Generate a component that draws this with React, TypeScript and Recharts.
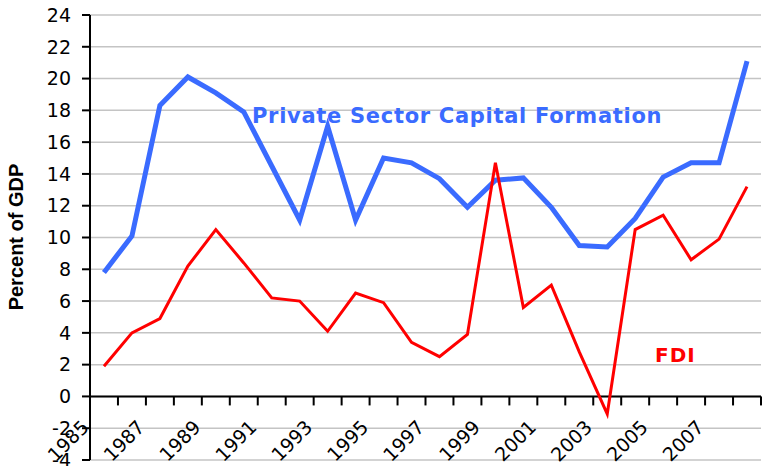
import React from "react";
import {
  LineChart,
  Line,
  XAxis,
  YAxis,
  CartesianGrid,
  ReferenceLine,
} from "recharts";

const years = [
  "1985", "1986", "1987", "1988", "1989", "1990", "1991", "1992",
  "1993", "1994", "1995", "1996", "1997", "1998", "1999", "2000",
  "2001", "2002", "2003", "2004", "2005", "2006", "2007", "2008",
];
const privateCapital = [
  7.8, 10.1, 18.3, 20.1, 19.1, 17.9, 14.5, 11.1, 17.0, 11.1, 15.0, 14.7,
  13.7, 11.9, 13.6, 13.75, 11.9, 9.5, 9.4, 11.2, 13.8, 14.7, 14.7, 21.1,
];
const fdi = [
  1.9, 4.0, 4.9, 8.2, 10.5, 8.4, 6.2, 6.0, 4.1, 6.5, 5.9, 3.4,
  2.5, 3.9, 14.7, 5.6, 7.0, 2.8, -1.1, 10.5, 11.4, 8.6, 9.9, 13.2,
];
const yTicks = [-4, -2, 0, 2, 4, 6, 8, 10, 12, 14, 16, 18, 20, 22, 24];

const data = years.map((year, i) => ({
  year,
  privateCapital: privateCapital[i],
  fdi: fdi[i],
}));

const W = 764;
const H = 466;
const TOP = 15;
const BOTTOM = 5;
const X_AXIS_H = 1;
const LEFT = 90;
const RIGHT = 3;
const PLOT_H = H - TOP - BOTTOM - X_AXIS_H;
const Y_MIN = -4;
const Y_MAX = 24;
// the category axis crosses at 0, not at the bottom of the plot
const zeroY = TOP + ((Y_MAX - 0) / (Y_MAX - Y_MIN)) * PLOT_H;
const band = (W - LEFT - RIGHT) / years.length;
const tickMarks = [...years, "end"].map((_, i) => LEFT + i * band);

const YearTick = (props: any) => {
  const { x, payload, index } = props;
  if (index % 2 !== 0) return <g />;
  const lx = x - 14;
  const ly = zeroY + 32;
  return (
    <text
      x={lx}
      y={ly}
      transform={`rotate(-45 ${lx} ${ly})`}
      textAnchor="end"
      fontFamily="DejaVu Sans"
      fontSize={19}
      fill="#000"
    >
      {payload.value}
    </text>
  );
};

export default function App() {
  return (
    <div style={{ position: "absolute", left: 0, top: 0, width: W, height: H, background: "#fff" }}>
      <LineChart
        width={W}
        height={H}
        data={data}
        margin={{ top: TOP, right: RIGHT, bottom: BOTTOM, left: 0 }}
      >
        <CartesianGrid horizontal vertical={false} stroke="#c4c4c4" strokeWidth={1.5} />
        <XAxis
          dataKey="year"
          scale="band"
          height={X_AXIS_H}
          axisLine={false}
          tickLine={false}
          interval={0}
          tick={(p: any) => <YearTick {...p} />}
        />
        <YAxis
          width={LEFT}
          domain={[Y_MIN, Y_MAX]}
          ticks={yTicks}
          interval={0}
          axisLine={{ stroke: "#000", strokeWidth: 2 }}
          tickLine={{ stroke: "#000", strokeWidth: 2 }}
          tickSize={8}
          tickMargin={11}
          tick={{ fontSize: 19, fill: "#000", fontFamily: "DejaVu Sans" }}
        />
        <ReferenceLine y={0} stroke="#000" strokeWidth={2} />
        <Line
          type="linear"
          dataKey="privateCapital"
          stroke="#3a6bff"
          strokeWidth={5}
          dot={false}
          isAnimationActive={false}
        />
        <Line
          type="linear"
          dataKey="fdi"
          stroke="#ff0000"
          strokeWidth={3}
          dot={false}
          isAnimationActive={false}
        />
      </LineChart>
      <svg
        width={W}
        height={H}
        style={{ position: "absolute", left: 0, top: 0, pointerEvents: "none" }}
      >
        {/* category tick marks between years, hanging from the zero line */}
        {tickMarks.map((tx, i) => (
          <rect key={i} x={tx - 1} y={zeroY} width={2} height={9} fill="#000" />
        ))}
        <text
          x={16}
          y={237}
          transform="rotate(-90 16 237)"
          textAnchor="middle"
          dominantBaseline="central"
          fontFamily="Liberation Sans"
          fontWeight="bold"
          fontSize={20}
          fill="#000"
        >
          Percent of GDP
        </text>
        <text
          x={252}
          y={123}
          fontFamily="DejaVu Sans"
          fontWeight="bold"
          fontSize={21}
          letterSpacing={0.7}
          fill="#3a6bff"
        >
          Private Sector Capital Formation
        </text>
        <text
          x={655}
          y={362}
          fontFamily="DejaVu Sans"
          fontWeight="bold"
          fontSize={20}
          letterSpacing={1}
          fill="#ff0000"
        >
          FDI
        </text>
      </svg>
    </div>
  );
}
